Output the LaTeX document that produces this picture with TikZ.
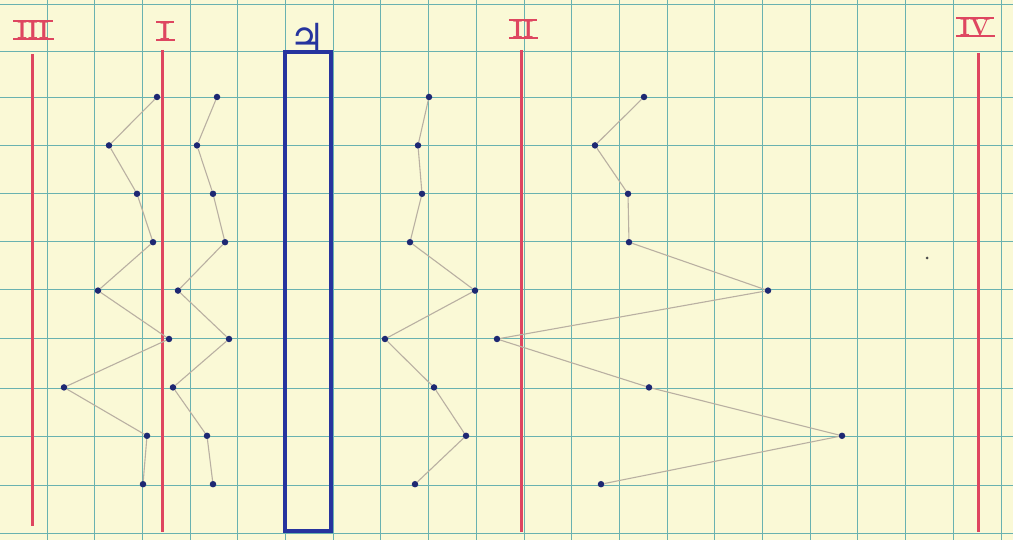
\documentclass[tikz,border=0pt]{standalone}
\usepackage{fontspec}
\newfontfamily\djv{DejaVu Sans}
\definecolor{paper}{RGB}{250,249,214}
\definecolor{gridc}{RGB}{105,178,176}
\definecolor{redl}{RGB}{222,70,96}
\definecolor{bluel}{RGB}{38,52,158}
\definecolor{dotc}{RGB}{30,40,115}
\definecolor{connc}{RGB}{185,176,162}
\tikzset{
  gridline/.style={gridc, line width=0.9pt},
  redline/.style={redl, line width=3pt},
  jbox/.style={draw=bluel, line width=3.1pt, minimum width=46pt, minimum height=479pt, inner sep=0pt},
  dot/.style={circle, fill=dotc, inner sep=0pt, minimum size=6.5pt},
  speck/.style={circle, fill=black!70, inner sep=0pt, minimum size=3pt},
  conn/.style={connc, line width=1.1pt},
  roman/.style={text=redl, font=\fontsize{24}{24}\selectfont\bfseries, inner sep=0.5pt},
  bar/.style={redl, line width=2pt},
}
\begin{document}
\begin{tikzpicture}[x=1pt,y=-1pt]
\fill[paper] (0,0) rectangle (1013,540);
\useasboundingbox (0,0) rectangle (1013,540);
% grid
\foreach \k in {0,...,20} \draw[gridline] ({47+47.7*\k},0) -- ({47+47.7*\k},540);
\foreach \y in {4,51,97,145,193,241,289,338,388,436,485,533} \draw[gridline] (0,\y) -- (1013,\y);
% red lines
\coordinate (r3t) at (32,54);  \coordinate (r3b) at (32,526);
\coordinate (r1t) at (162,50); \coordinate (r1b) at (162,532);
\coordinate (r2t) at (521,50); \coordinate (r2b) at (521,532);
\coordinate (r4t) at (978,53); \coordinate (r4b) at (978,532);
\draw[redline] (r3t) -- (r3b);
\draw[redline] (r1t) -- (r1b);
\draw[redline] (r2t) -- (r2b);
\draw[redline] (r4t) -- (r4b);
% roman labels
\node[roman] (l3) at (33,30) {III};
\node[roman] (l1) at (165,31) {I};
\node[roman] (l2) at (523,29) {II};
\node[roman] (l4) at (975,27) {IV};
\foreach \n in {l3,l1,l2,l4} {
  \draw[bar] ([xshift=-3pt]\n.north west) -- ([xshift=3pt]\n.north east);
  \draw[bar] ([xshift=-3pt]\n.south west) -- ([xshift=4pt]\n.south east);
}
% Jupiter
\node[jbox] (jup) at (308,291.5) {};
\node[text=bluel, font=\djv\fontsize{40}{40}\selectfont\bfseries, inner sep=0pt, anchor=south] (jsym) at (307,53) {♃};
% dots
\foreach \x [count=\i] in {157,109,137,153,98,169,64,147,143}
  \node[dot] (a\i) at (\x,{97+48.4*(\i-1)}) {};
\foreach \x [count=\i] in {217,197,213,225,178,229,173,207,213}
  \node[dot] (b\i) at (\x,{97+48.4*(\i-1)}) {};
\foreach \x [count=\i] in {429,418,422,410,475,385,434,466,415}
  \node[dot] (c\i) at (\x,{97+48.4*(\i-1)}) {};
\foreach \x [count=\i] in {644,595,628,629,768,497,649,842,601}
  \node[dot] (d\i) at (\x,{97+48.4*(\i-1)}) {};
\foreach \s in {a,b,c,d}
  \draw[conn] (\s1) -- (\s2) -- (\s3) -- (\s4) -- (\s5) -- (\s6) -- (\s7) -- (\s8) -- (\s9);
\node[speck] (sp) at (927,258) {};
\end{tikzpicture}
\end{document}
